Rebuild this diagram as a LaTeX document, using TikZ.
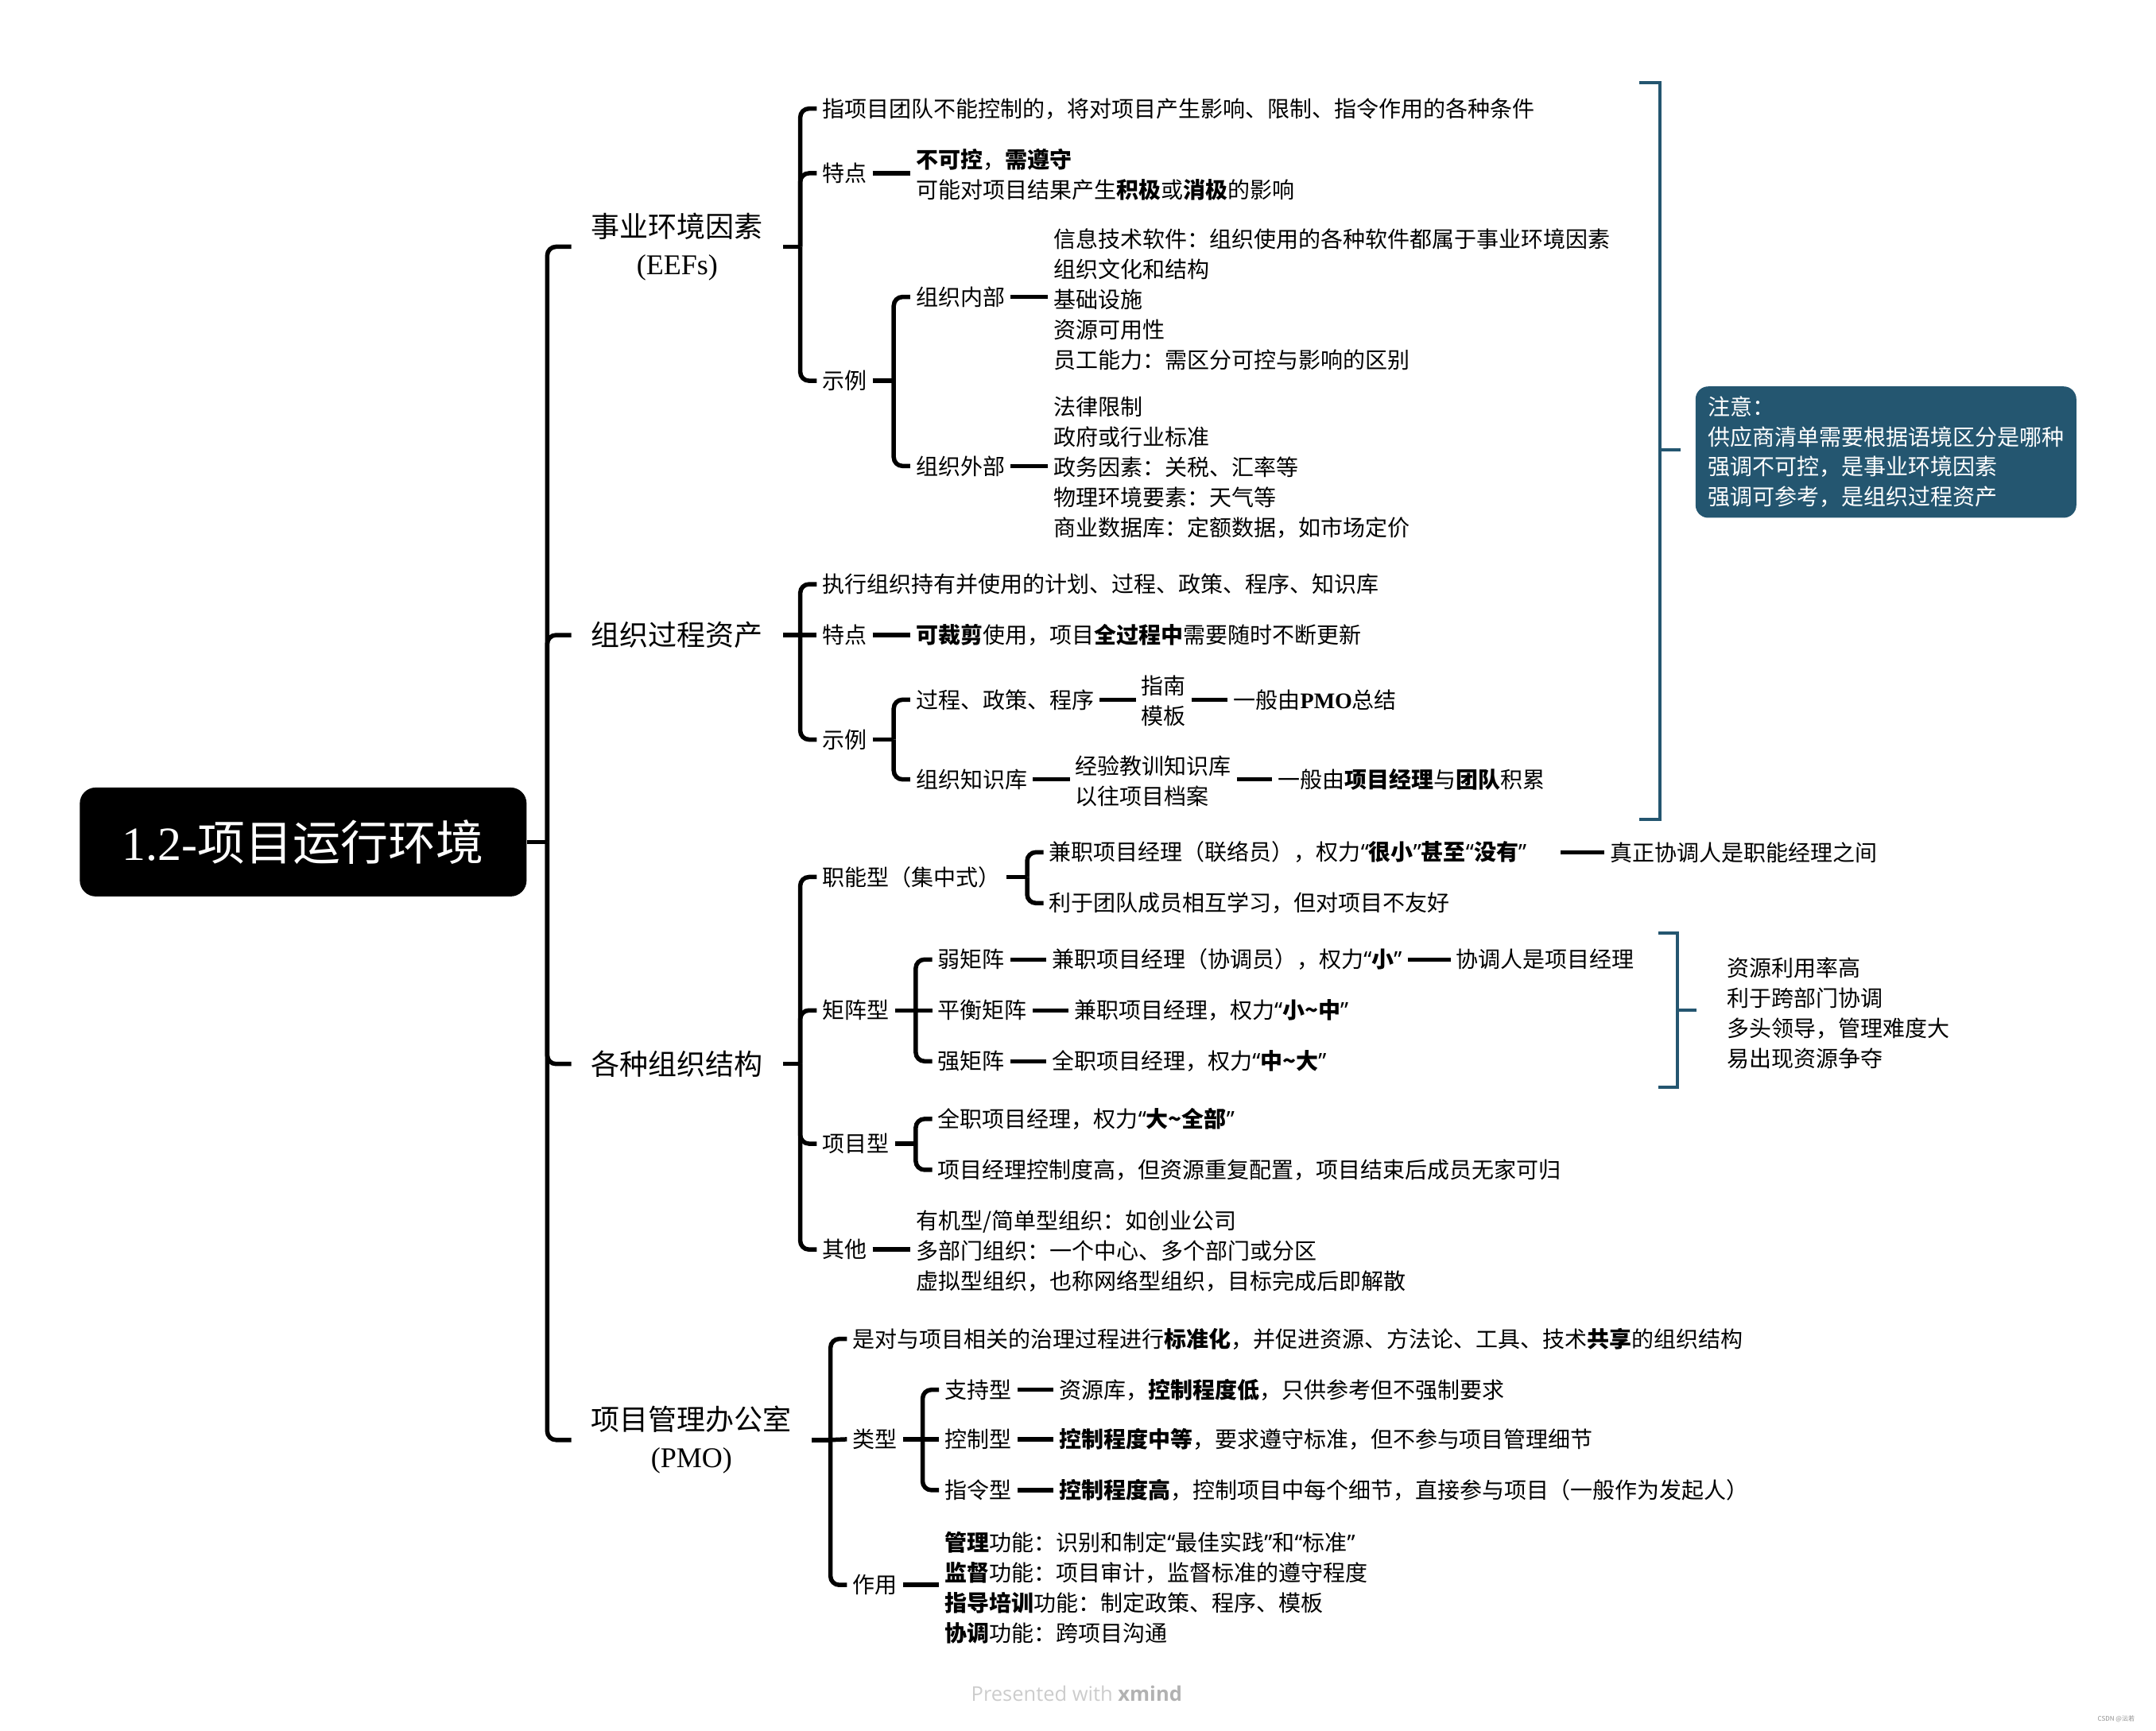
\documentclass[tikz,border=0pt]{standalone}
\usepackage{fontspec}
\setmainfont{Noto Sans CJK SC}
\newfontfamily\lserif{Liberation Serif}
\newfontfamily\footfont{Open Sans}
\newfontfamily\qfont{Noto Sans}
\newcommand\qo{{\qfont “}}
\newcommand\qc{{\qfont ”}}
\definecolor{noteblue}{RGB}{36,86,112}
\begin{document}
\begin{tikzpicture}[x=1.7296pt,y=-1.7296pt,
  brl/.style={line width=5.5pt, rounded corners=11pt},
  bkt/.style={draw=noteblue, line width=4pt},
  tx/.style={anchor=west, xshift=-7pt, inner xsep=7pt, inner ysep=1pt, font=\fontsize{28}{38}\selectfont, align=left},
  lv1/.style={anchor=west, xshift=-25pt, inner xsep=25pt, inner ysep=1pt, font=\fontsize{36}{46.7}\selectfont, align=center},
  rootbox/.style={fill=black, text=white, rounded corners=20pt, minimum width=562pt, minimum height=137pt, inner sep=0pt, font=\fontsize{60}{70}\selectfont},
  notebox/.style={fill=noteblue, text=white, rounded corners=16pt, anchor=north west, inner xsep=15.5pt, inner ysep=13pt, text width=448pt, align=left, font=\fontsize{28}{37.5}\selectfont}
]
\useasboundingbox (0,0) rectangle (1568,1259);

% ---------- root ----------
\node[rootbox] (root) at (220.5,612.5) {{\lserif 1.2-}项目运行环境};

% ---------- level 1 ----------
\node[lv1] (eef) at (430,179.5) {事业环境因素\\{\lserif (EEFs)}};
\node[lv1] (opa) at (430,462) {组织过程资产};
\node[lv1] (org) at (430,774) {各种组织结构};
\node[lv1] (pmo) at (430,1047.5) {项目管理办公室\\{\lserif (PMO)}};

\coordinate (T0) at (398,612.5);
\draw[brl] (root.east) -- (T0);
\foreach \n in {eef,opa,org,pmo} \draw[brl] (T0) |- (\n.west);

% ---------- EEFs ----------
\node[tx] (e1) at (598,79) {指项目团队不能控制的，将对项目产生影响、限制、指令作用的各种条件};
\node[tx] (e2) at (598,126) {特点};
\node[tx] (e2a) at (666,127) {\textbf{不可控}，\textbf{需遵守}\\可能对项目结果产生\textbf{积极}或\textbf{消极}的影响};
\node[tx] (e3) at (598,277) {示例};
\node[tx] (e3a) at (666,216) {组织内部};
\node[tx] (e3a1) at (766,218) {信息技术软件：组织使用的各种软件都属于事业环境因素\\组织文化和结构\\基础设施\\资源可用性\\员工能力：需区分可控与影响的区别};
\node[tx] (e3b) at (666,339) {组织外部};
\node[tx] (e3b1) at (766,340) {法律限制\\政府或行业标准\\政务因素：关税、汇率等\\物理环境要素：天气等\\商业数据库：定额数据，如市场定价};

\coordinate (T1) at (eef.east -| 582,0);
\draw[brl] (eef.east) -- (T1);
\foreach \n in {e1,e2,e3} \draw[brl] (T1) |- (\n.west);
\draw[brl] (e2.east) -- (e2.east -| e2a.west);
\coordinate (T1c) at (e3.east -| 650,0);
\draw[brl] (e3.east) -- (T1c);
\foreach \n in {e3a,e3b} \draw[brl] (T1c) |- (\n.west);
\draw[brl] (e3a.east) -- (e3a.east -| e3a1.west);
\draw[brl] (e3b.east) -- (e3b.east -| e3b1.west);

% ---------- OPA ----------
\node[tx] (o1) at (598,425) {执行组织持有并使用的计划、过程、政策、程序、知识库};
\node[tx] (o2) at (598,462) {特点};
\node[tx] (o2a) at (666,462) {\textbf{可裁剪}使用，项目\textbf{全过程中}需要随时不断更新};
\node[tx] (o3) at (598,538) {示例};
\node[tx] (o3a) at (666,509) {过程、政策、程序};
\node[tx, align=center] (o3a1) at (830,510) {指南\\模板};
\node[tx] (o3a2) at (897,509) {一般由\textbf{\lserif PMO}总结};
\node[tx] (o3b) at (666,567) {组织知识库};
\node[tx] (o3b1) at (782,568) {经验教训知识库\\以往项目档案};
\node[tx] (o3b2) at (929,567) {一般由\textbf{项目经理}与\textbf{团队}积累};

\coordinate (T2) at (opa.east -| 582,0);
\draw[brl] (opa.east) -- (T2);
\draw[brl] (T2) |- (o1.west);
\draw[brl] (T2) -- (o2.west);
\draw[brl] (T2) |- (o3.west);
\draw[brl] (o2.east) -- (o2a.west);
\coordinate (T2c) at (o3.east -| 650,0);
\draw[brl] (o3.east) -- (T2c);
\foreach \n in {o3a,o3b} \draw[brl] (T2c) |- (\n.west);
\draw[brl] (o3a.east) -- (o3a.east -| o3a1.west);
\draw[brl] (o3a1.east |- o3a2.west) -- (o3a2.west);
\draw[brl] (o3b.east) -- (o3b.east -| o3b1.west);
\draw[brl] (o3b1.east |- o3b2.west) -- (o3b2.west);

% ---------- bracket + note ----------
\draw[bkt] (1192,60) -- (1207,60) -- (1207,596) -- (1192,596);
\coordinate (B1) at (1222,327);
\draw[bkt] (1207,327) -- (B1);
\node[notebox] (note) at (1233,281) {注意：\\供应商清单需要根据语境区分是哪种\\强调不可控，是事业环境因素\\强调可参考，是组织过程资产};

% ---------- 组织结构 ----------
\node[tx] (s1) at (598,638) {职能型（集中式）};
\node[tx] (s1a) at (763,620) {兼职项目经理（联络员），权力\textbf{\qo 很小\qc 甚至\qo 没有\qc}\hspace*{36pt}};
\node[tx] (s1a1) at (1171,620) {真正协调人是职能经理之间};
\node[tx] (s1b) at (763,657) {利于团队成员相互学习，但对项目不友好};
\node[tx] (s2) at (598,735) {矩阵型};
\node[tx] (s2a) at (682,698) {弱矩阵};
\node[tx] (s2a1) at (765,698) {兼职项目经理（协调员），权力\textbf{\qo 小\qc}};
\node[tx] (s2a2) at (1059,698) {协调人是项目经理};
\node[tx] (s2b) at (682,735) {平衡矩阵};
\node[tx] (s2b1) at (781,735) {兼职项目经理，权力\textbf{\qo 小\textasciitilde 中\qc}};
\node[tx] (s2c) at (682,772) {强矩阵};
\node[tx] (s2c1) at (765,772) {全职项目经理，权力\textbf{\qo 中\textasciitilde 大\qc}};
\node[tx] (s2n) at (1256,737) {资源利用率高\\利于跨部门协调\\多头领导，管理难度大\\易出现资源争夺};
\node[tx] (s3) at (598,832) {项目型};
\node[tx] (s3a) at (682,814) {全职项目经理，权力\textbf{\qo 大\textasciitilde 全部\qc}};
\node[tx] (s3b) at (682,851) {项目经理控制度高，但资源重复配置，项目结束后成员无家可归};
\node[tx] (s4) at (598,909) {其他};
\node[tx] (s4a) at (666,910) {有机型/简单型组织：如创业公司\\多部门组织：一个中心、多个部门或分区\\虚拟型组织，也称网络型组织，目标完成后即解散};

\coordinate (T3) at (org.east -| 582,0);
\draw[brl] (org.east) -- (T3);
\foreach \n in {s1,s2,s3,s4} \draw[brl] (T3) |- (\n.west);
\coordinate (T3a) at (s1.east -| 747,0);
\draw[brl] (s1.east) -- (T3a);
\foreach \n in {s1a,s1b} \draw[brl] (T3a) |- (\n.west);
\draw[brl] (s1a.east) -- (s1a1.west);
\coordinate (T3b) at (s2.east -| 666,0);
\draw[brl] (s2.east) -- (T3b);
\draw[brl] (T3b) |- (s2a.west);
\draw[brl] (T3b) -- (s2b.west);
\draw[brl] (T3b) |- (s2c.west);
\draw[brl] (s2a.east) -- (s2a1.west);
\draw[brl] (s2a1.east) -- (s2a2.west);
\draw[brl] (s2b.east) -- (s2b1.west);
\draw[brl] (s2c.east) -- (s2c1.west);
\coordinate (T3c) at (s3.east -| 666,0);
\draw[brl] (s3.east) -- (T3c);
\foreach \n in {s3a,s3b} \draw[brl] (T3c) |- (\n.west);
\draw[brl] (s4.east) -- (s4.east -| s4a.west);
\draw[bkt] (1206,679) -- (1220,679) -- (1220,791) -- (1206,791);
\draw[bkt] (1220,735) -- (1234,735);

% ---------- PMO ----------
\node[tx] (p1) at (620,974) {是对与项目相关的治理过程进行\textbf{标准化}，并促进资源、方法论、工具、技术\textbf{共享}的组织结构};
\node[tx] (p2) at (620,1047) {类型};
\node[tx] (p2a) at (687,1011) {支持型};
\node[tx] (p2a1) at (770,1011) {资源库，\textbf{控制程度低}，只供参考但不强制要求};
\node[tx] (p2b) at (687,1047) {控制型};
\node[tx] (p2b1) at (770,1047) {\textbf{控制程度中等}，要求遵守标准，但不参与项目管理细节};
\node[tx] (p2c) at (687,1084) {指令型};
\node[tx] (p2c1) at (770,1084) {\textbf{控制程度高}，控制项目中每个细节，直接参与项目（一般作为发起人）};
\node[tx] (p3) at (620,1153) {作用};
\node[tx] (p3a) at (687,1155) {\textbf{管理}功能：识别和制定\qo 最佳实践\qc 和\qo 标准\qc\\\textbf{监督}功能：项目审计，监督标准的遵守程度\\\textbf{指导培训}功能：制定政策、程序、模板\\\textbf{协调}功能：跨项目沟通};

\coordinate (T4) at (pmo.east -| 604,0);
\draw[brl] (pmo.east) -- (T4);
\draw[brl] (T4) |- (p1.west);
\draw[brl] (T4) -- (p2.west);
\draw[brl] (T4) |- (p3.west);
\coordinate (T4a) at (p2.east -| 671,0);
\draw[brl] (p2.east) -- (T4a);
\draw[brl] (T4a) |- (p2a.west);
\draw[brl] (T4a) -- (p2b.west);
\draw[brl] (T4a) |- (p2c.west);
\draw[brl] (p2a.east) -- (p2a1.west);
\draw[brl] (p2b.east) -- (p2b1.west);
\draw[brl] (p2c.east) -- (p2c1.west);
\draw[brl] (p3.east) -- (p3.east -| p3a.west);

% ---------- footer ----------
\node[font=\footfont\fontsize{25.5}{30}\selectfont, text=black!20] (foot) at (783,1232) {Presented with \textcolor{black!30}{\textbf{xmind}}};
\node[font=\fontsize{8}{9}\selectfont, text=black!45] (wm) at (1539,1250.5) {CSDN @沄若};
\end{tikzpicture}
\end{document}
